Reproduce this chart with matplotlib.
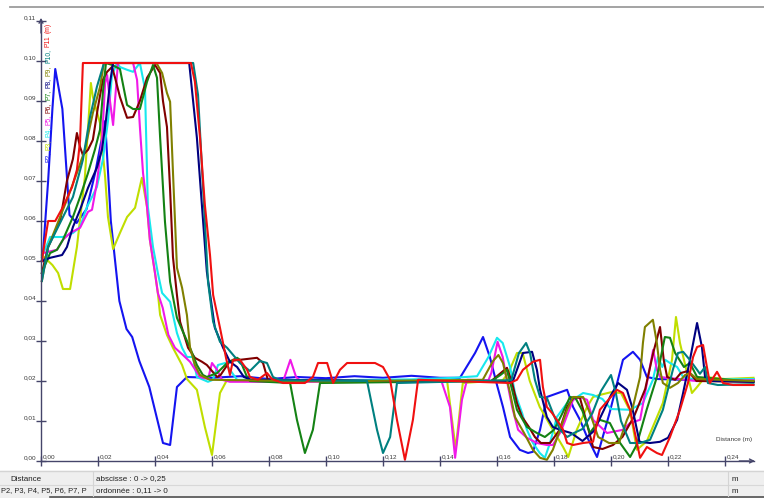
import matplotlib
matplotlib.use("Agg")
import matplotlib.pyplot as plt
from matplotlib.lines import Line2D
from matplotlib.patches import Rectangle
from matplotlib.transforms import offset_copy, IdentityTransform

plt.rcParams['font.family'] = ['Liberation Sans', 'DejaVu Sans']

# profiles, (distance m, height m)
p2 = [(0.0005, 0.050), (0.0025, 0.070), (0.004, 0.088), (0.005, 0.098), (0.0075, 0.088),
      (0.010, 0.0615), (0.0125, 0.0595), (0.016, 0.063), (0.019, 0.072), (0.0225, 0.085),
      (0.0245, 0.060), (0.0275, 0.040), (0.030, 0.033), (0.032, 0.031), (0.0345, 0.025),
      (0.038, 0.0185), (0.0428, 0.0045), (0.0453, 0.004), (0.0477, 0.0185), (0.0512, 0.021),
      (0.06, 0.0208), (0.07, 0.0212), (0.08, 0.0205), (0.09, 0.021), (0.10, 0.0207),
      (0.11, 0.0212), (0.12, 0.0208), (0.13, 0.0213), (0.14, 0.0208), (0.147, 0.0208),
      (0.1523, 0.027), (0.1551, 0.031), (0.1575, 0.026), (0.160, 0.019), (0.1621, 0.0135),
      (0.1646, 0.006), (0.168, 0.0028), (0.1709, 0.002), (0.1726, 0.0023), (0.1751, 0.0078),
      (0.1775, 0.016), (0.1846, 0.0178), (0.1867, 0.0135), (0.1891, 0.0103), (0.1916, 0.006),
      (0.1951, 0.001), (0.1995, 0.012), (0.2042, 0.0253), (0.2077, 0.0273), (0.2102, 0.0253),
      (0.2126, 0.021), (0.2161, 0.0205), (0.23, 0.0202), (0.25, 0.0205)]

p3 = [(0.0003, 0.0515), (0.004, 0.049), (0.006, 0.047), (0.0077, 0.043), (0.0102, 0.043),
      (0.0126, 0.0535), (0.0154, 0.071), (0.0175, 0.0945), (0.0182, 0.091), (0.0207, 0.0845),
      (0.0225, 0.071), (0.0235, 0.061), (0.0253, 0.053), (0.0277, 0.057), (0.0302, 0.061),
      (0.033, 0.0633), (0.0354, 0.0708), (0.0372, 0.0635), (0.0382, 0.0553), (0.040, 0.047),
      (0.041, 0.042), (0.0418, 0.0365), (0.0442, 0.0315), (0.0463, 0.0283), (0.0495, 0.024),
      (0.0512, 0.0205), (0.0547, 0.0178), (0.0575, 0.0085), (0.060, 0.0015), (0.0628, 0.017),
      (0.0653, 0.0203), (0.09, 0.0198), (0.12, 0.0202), (0.1425, 0.0200), (0.1455, 0.003),
      (0.1480, 0.0195), (0.162, 0.0202), (0.164, 0.022), (0.167, 0.027), (0.169, 0.027),
      (0.1715, 0.020), (0.175, 0.0135), (0.1796, 0.0078), (0.1832, 0.0035), (0.185, 0.001),
      (0.188, 0.0078), (0.1916, 0.0135), (0.1937, 0.016), (0.196, 0.0165), (0.2, 0.0172),
      (0.2035, 0.017), (0.2067, 0.0125), (0.2091, 0.0028), (0.2126, 0.005), (0.2182, 0.0145),
      (0.2214, 0.0253), (0.2228, 0.036), (0.2242, 0.0295), (0.2267, 0.022), (0.2284, 0.017),
      (0.2302, 0.0185), (0.233, 0.021), (0.24, 0.0205), (0.25, 0.0208)]

p4 = [(0.0003, 0.051), (0.0032, 0.056), (0.0077, 0.056), (0.0112, 0.057), (0.0137, 0.0585),
      (0.0161, 0.0635), (0.0179, 0.066), (0.0196, 0.0685), (0.0217, 0.0753), (0.0235, 0.085),
      (0.0249, 0.0965), (0.0267, 0.0995), (0.0277, 0.0985), (0.0302, 0.0978), (0.0323, 0.0973),
      (0.0347, 0.0995), (0.0365, 0.093), (0.0375, 0.0635), (0.0393, 0.0535), (0.041, 0.047),
      (0.0425, 0.042), (0.0453, 0.0398), (0.0477, 0.032), (0.0495, 0.0283), (0.0512, 0.026),
      (0.0533, 0.026), (0.0547, 0.021), (0.0586, 0.0198), (0.0603, 0.0203), (0.0621, 0.024),
      (0.0646, 0.0245), (0.0663, 0.0228), (0.0688, 0.0203), (0.10, 0.0202), (0.13, 0.0204),
      (0.145, 0.0208), (0.153, 0.0212), (0.157, 0.026), (0.160, 0.0308), (0.162, 0.0295),
      (0.1646, 0.0235), (0.1663, 0.017), (0.1688, 0.012), (0.1705, 0.0078), (0.1726, 0.0045),
      (0.175, 0.002), (0.1768, 0.0008), (0.1786, 0.0045), (0.181, 0.011), (0.1846, 0.0145),
      (0.1867, 0.0153), (0.1902, 0.017), (0.1937, 0.0165), (0.197, 0.0155), (0.2, 0.013),
      (0.2067, 0.0128), (0.2112, 0.0145), (0.2147, 0.0203), (0.2165, 0.026), (0.218, 0.0235),
      (0.219, 0.0253), (0.2207, 0.0245), (0.2232, 0.0235), (0.2253, 0.021), (0.23, 0.0203),
      (0.25, 0.0205)]

p5 = [(0.0007, 0.052), (0.0056, 0.0528), (0.0077, 0.0553), (0.0102, 0.057), (0.0137, 0.0583),
      (0.0165, 0.0623), (0.0179, 0.0628), (0.0196, 0.0695), (0.0214, 0.080), (0.0225, 0.0945),
      (0.0232, 0.0965), (0.0242, 0.090), (0.0253, 0.084), (0.0270, 0.0995), (0.0323, 0.0995),
      (0.0337, 0.0953), (0.0347, 0.0835), (0.0358, 0.072), (0.0372, 0.0635), (0.0382, 0.0553),
      (0.040, 0.047), (0.041, 0.042), (0.0427, 0.0383), (0.0447, 0.0315), (0.0470, 0.0283),
      (0.0498, 0.0265), (0.0523, 0.0248), (0.0558, 0.021), (0.0586, 0.0205), (0.0600, 0.0245),
      (0.0618, 0.0228), (0.0635, 0.0203), (0.0663, 0.0198), (0.0849, 0.0198), (0.0875, 0.0253),
      (0.0895, 0.021), (0.0915, 0.0198), (0.1405, 0.0200), (0.1435, 0.0135), (0.1453, 0.0008),
      (0.1477, 0.0153), (0.1495, 0.0203), (0.157, 0.0202), (0.158, 0.022), (0.1602, 0.0298),
      (0.162, 0.026), (0.1635, 0.020), (0.1653, 0.0135), (0.1674, 0.0078), (0.1705, 0.0058),
      (0.174, 0.0045), (0.1775, 0.004), (0.1796, 0.004), (0.1825, 0.0075), (0.1867, 0.0153),
      (0.1891, 0.016), (0.1916, 0.0153), (0.1937, 0.0103), (0.1986, 0.007), (0.2042, 0.0078),
      (0.2067, 0.0095), (0.2102, 0.0103), (0.2126, 0.0195), (0.2148, 0.0278), (0.2161, 0.0228),
      (0.2172, 0.021), (0.23, 0.020), (0.25, 0.0202)]

p6 = [(0.0003, 0.047), (0.0025, 0.0535), (0.0067, 0.060), (0.0091, 0.070), (0.0112, 0.0755),
      (0.0126, 0.082), (0.0137, 0.0785), (0.0147, 0.0765), (0.0165, 0.0778), (0.0182, 0.0803),
      (0.0200, 0.0885), (0.0217, 0.0953), (0.0232, 0.0973), (0.0249, 0.0985), (0.0260, 0.0958),
      (0.0277, 0.091), (0.0302, 0.0858), (0.0323, 0.086), (0.0347, 0.090), (0.0372, 0.0958),
      (0.040, 0.099), (0.0418, 0.097), (0.0428, 0.090), (0.0442, 0.0835), (0.0453, 0.0678),
      (0.0463, 0.051), (0.0477, 0.0415), (0.0488, 0.0348), (0.0516, 0.0283), (0.054, 0.0258),
      (0.0565, 0.0248), (0.0582, 0.024), (0.0600, 0.0225), (0.0618, 0.021), (0.063, 0.0215),
      (0.0663, 0.025), (0.0758, 0.0258), (0.0779, 0.0245), (0.0796, 0.0203), (0.12, 0.0200),
      (0.158, 0.0200), (0.1605, 0.0215), (0.1635, 0.0233), (0.1653, 0.0195), (0.1670, 0.0145),
      (0.1688, 0.011), (0.1712, 0.0085), (0.1733, 0.006), (0.1754, 0.0045), (0.1786, 0.0045),
      (0.182, 0.0078), (0.1846, 0.0135), (0.187, 0.016), (0.1891, 0.0158), (0.1912, 0.0103),
      (0.1937, 0.0035), (0.197, 0.003), (0.2007, 0.004), (0.204, 0.006), (0.208, 0.011),
      (0.212, 0.018), (0.2148, 0.027), (0.2172, 0.0335), (0.2185, 0.0253), (0.2197, 0.021),
      (0.2225, 0.0203), (0.2245, 0.022), (0.227, 0.0225), (0.23, 0.020), (0.25, 0.0198)]

p7 = [(0.0003, 0.047), (0.0032, 0.052), (0.0056, 0.0528), (0.0077, 0.0553), (0.0112, 0.061),
      (0.0137, 0.066), (0.0165, 0.072), (0.0189, 0.0778), (0.0207, 0.0828), (0.0218, 0.0928),
      (0.0228, 0.0995), (0.0250, 0.0990), (0.0277, 0.098), (0.0302, 0.089), (0.0323, 0.088),
      (0.0347, 0.088), (0.0372, 0.0948), (0.0393, 0.099), (0.0407, 0.0958), (0.0418, 0.0808),
      (0.0435, 0.0598), (0.0453, 0.0448), (0.0477, 0.0358), (0.0498, 0.0323), (0.0523, 0.0283),
      (0.0547, 0.024), (0.0568, 0.0215), (0.0582, 0.021), (0.0618, 0.022), (0.0653, 0.0245),
      (0.0688, 0.0258), (0.0698, 0.0253), (0.0723, 0.021), (0.0733, 0.020), (0.0874, 0.0195),
      (0.0898, 0.0103), (0.0926, 0.002), (0.0954, 0.0078), (0.0979, 0.0195), (0.158, 0.020),
      (0.1612, 0.0215), (0.1635, 0.0228), (0.1653, 0.0178), (0.1670, 0.0128), (0.1705, 0.0085),
      (0.174, 0.007), (0.1768, 0.006), (0.180, 0.0078), (0.183, 0.012), (0.1856, 0.016),
      (0.1875, 0.0158), (0.19, 0.0125), (0.1926, 0.007), (0.196, 0.0103), (0.1996, 0.0095),
      (0.2032, 0.0045), (0.2067, 0.001), (0.209, 0.004), (0.2125, 0.0128), (0.2161, 0.021),
      (0.2189, 0.031), (0.2207, 0.0308), (0.2225, 0.027), (0.2256, 0.0235), (0.2277, 0.0245),
      (0.2302, 0.021), (0.25, 0.0198)]

p8 = [(0.0003, 0.050), (0.0032, 0.0508), (0.0074, 0.0515), (0.0091, 0.0535), (0.0112, 0.0585),
      (0.0137, 0.0628), (0.0165, 0.0683), (0.0196, 0.0733), (0.0214, 0.0778), (0.0228, 0.0853),
      (0.0242, 0.0945), (0.0253, 0.0995), (0.052, 0.0995), (0.0547, 0.0808), (0.0582, 0.0473),
      (0.0610, 0.0333), (0.0639, 0.0283), (0.0663, 0.0248), (0.0688, 0.0235), (0.0712, 0.021),
      (0.0737, 0.0203), (0.12, 0.0200), (0.1656, 0.0200), (0.1691, 0.027), (0.1723, 0.0273),
      (0.174, 0.0228), (0.1751, 0.0178), (0.1775, 0.011), (0.1796, 0.0085), (0.1821, 0.0078),
      (0.186, 0.007), (0.19, 0.005), (0.194, 0.0075), (0.197, 0.012), (0.2, 0.0165),
      (0.2025, 0.0195), (0.2056, 0.0178), (0.2074, 0.0135), (0.2091, 0.0078), (0.21, 0.0048),
      (0.2137, 0.0045), (0.2172, 0.0048), (0.22, 0.0058), (0.2232, 0.0103), (0.2253, 0.017),
      (0.2277, 0.0253), (0.2302, 0.0345), (0.2319, 0.0285), (0.233, 0.021), (0.2358, 0.020),
      (0.25, 0.0198)]

p9 = [(0.0003, 0.045), (0.0025, 0.0535), (0.0091, 0.0653), (0.0126, 0.072), (0.0154, 0.0778),
      (0.0182, 0.087), (0.0207, 0.0935), (0.0221, 0.0995), (0.0405, 0.0995), (0.0425, 0.097),
      (0.0442, 0.092), (0.0453, 0.0898), (0.0463, 0.0723), (0.0477, 0.0483), (0.0495, 0.0433),
      (0.0512, 0.0365), (0.0523, 0.0283), (0.054, 0.024), (0.0558, 0.0215), (0.0593, 0.0203),
      (0.10, 0.0199), (0.155, 0.0203), (0.1586, 0.025), (0.1605, 0.0265), (0.1621, 0.0245),
      (0.1646, 0.017), (0.1663, 0.011), (0.1695, 0.007), (0.1726, 0.0028), (0.1751, 0.0008),
      (0.1775, 0.0003), (0.1796, 0.0028), (0.1821, 0.0078), (0.1846, 0.0128), (0.1867, 0.016),
      (0.1902, 0.016), (0.1926, 0.012), (0.1955, 0.006), (0.1993, 0.0045), (0.2028, 0.0045),
      (0.2056, 0.0103), (0.2077, 0.0135), (0.2102, 0.021), (0.2112, 0.0295), (0.2119, 0.0335),
      (0.2147, 0.0353), (0.2161, 0.0295), (0.2172, 0.0228), (0.2182, 0.0195), (0.2207, 0.0183),
      (0.2235, 0.0195), (0.226, 0.0215), (0.2277, 0.022), (0.2302, 0.0205), (0.25, 0.020)]

p10 = [(0.0003, 0.045), (0.0025, 0.0535), (0.0112, 0.066), (0.0147, 0.0753), (0.0172, 0.086),
       (0.0196, 0.0935), (0.0221, 0.0995), (0.0534, 0.0995), (0.0551, 0.0915), (0.0575, 0.0598),
       (0.0586, 0.0448), (0.0604, 0.0348), (0.0628, 0.0298), (0.0653, 0.0283), (0.0698, 0.0245),
       (0.0733, 0.0225), (0.0768, 0.025), (0.0793, 0.0245), (0.0814, 0.021), (0.0839, 0.0202),
       (0.1144, 0.020), (0.1179, 0.0078), (0.1200, 0.002), (0.1225, 0.006), (0.1249, 0.0195),
       (0.165, 0.0202), (0.1677, 0.027), (0.1702, 0.0295), (0.1716, 0.027), (0.1733, 0.0203),
       (0.1751, 0.016), (0.1775, 0.0158), (0.1796, 0.012), (0.1821, 0.0078), (0.1846, 0.006),
       (0.187, 0.007), (0.19, 0.008), (0.1935, 0.012), (0.1965, 0.0175), (0.2, 0.0215),
       (0.2017, 0.017), (0.2035, 0.01), (0.2067, 0.0045), (0.2102, 0.0045), (0.2137, 0.0053),
       (0.2182, 0.0128), (0.2217, 0.0228), (0.2235, 0.027), (0.2253, 0.0273), (0.2274, 0.0255),
       (0.2302, 0.0228), (0.2312, 0.0218), (0.2330, 0.0235), (0.2340, 0.0195), (0.2375, 0.019),
       (0.25, 0.0192)]

p11 = [(0.0003, 0.050), (0.0025, 0.060), (0.005, 0.060), (0.0077, 0.0635), (0.0109, 0.0685),
       (0.0126, 0.0728), (0.0137, 0.080), (0.0147, 0.0995), (0.0526, 0.0995), (0.054, 0.0948),
       (0.0558, 0.0808), (0.0575, 0.064), (0.0593, 0.0515), (0.0604, 0.0415), (0.0628, 0.0333),
       (0.0650, 0.0255), (0.0663, 0.0215), (0.0674, 0.0253), (0.0698, 0.0253), (0.0723, 0.0228),
       (0.0733, 0.021), (0.0761, 0.0203), (0.0793, 0.022), (0.0810, 0.0205), (0.0849, 0.0195),
       (0.0926, 0.0195), (0.0954, 0.021), (0.0972, 0.0245), (0.1004, 0.0245), (0.1025, 0.0195),
       (0.1049, 0.0228), (0.1074, 0.0245), (0.1172, 0.0245), (0.12, 0.0235), (0.1225, 0.0203),
       (0.1249, 0.0103), (0.1277, 0.0003), (0.1305, 0.0103), (0.1323, 0.0203), (0.1646, 0.0195),
       (0.167, 0.0203), (0.1691, 0.0228), (0.1726, 0.0248), (0.1751, 0.0253), (0.1761, 0.0185),
       (0.1775, 0.0135), (0.1793, 0.012), (0.181, 0.0103), (0.1832, 0.0078), (0.1846, 0.0045),
       (0.1867, 0.004), (0.1902, 0.0045), (0.1937, 0.0048), (0.1961, 0.0128), (0.2021, 0.0178),
       (0.2042, 0.017), (0.2067, 0.0128), (0.2102, 0.0008), (0.2126, 0.0035), (0.2161, 0.002),
       (0.2179, 0.0015), (0.2207, 0.006), (0.2242, 0.0128), (0.227, 0.0195), (0.2288, 0.026),
       (0.2302, 0.0285), (0.2323, 0.029), (0.2337, 0.0233), (0.2347, 0.0195), (0.2372, 0.0223),
       (0.2382, 0.021), (0.2393, 0.0195), (0.2428, 0.019), (0.25, 0.019)]

names = ['P2', 'P3', 'P4', 'P5', 'P6', 'P7', 'P8', 'P9', 'P10', 'P11']
series = [p2, p3, p4, p5, p6, p7, p8, p9, p10, p11]
colors = ['#1414f0', '#c0de00', '#18e8ee', '#f018e8', '#800000',
          '#148214', '#000080', '#808000', '#008080', '#f01010']

x_ticks = [0.00, 0.02, 0.04, 0.06, 0.08, 0.10, 0.12, 0.14, 0.16, 0.18, 0.20, 0.22, 0.24]
y_ticks = [0.00, 0.01, 0.02, 0.03, 0.04, 0.05, 0.06, 0.07, 0.08, 0.09, 0.10, 0.11]

W, H = 764, 498
axc = '#45456a'
txc = '#3a3a3a'


def fx(px):
    return px / W


def fy(py):
    return 1 - py / H


fig = plt.figure(figsize=(W / 100, H / 100), dpi=100)
ax = fig.add_axes([fx(41), fy(461), 712.5 / W, 440 / H])
ax.set_xlim(0, 0.25)
ax.set_ylim(0, 0.11)

for pts, c in zip(series, colors):
    xs, ys = zip(*pts)
    ax.plot(xs, ys, color=c, lw=1.5, clip_on=False)

for s in ['top', 'right']:
    ax.spines[s].set_visible(False)
for s in ['left', 'bottom']:
    ax.spines[s].set_color(axc)
    ax.spines[s].set_linewidth(1.0)
ax.set_xticks(x_ticks)
ax.set_yticks(y_ticks)
ax.tick_params(direction='inout', length=7, width=1, color=axc,
               labelbottom=False, labelleft=False)

xtr = offset_copy(ax.transData, fig=fig, x=2, y=2, units='dots')
for v in x_ticks:
    ax.text(v, 0, f'{v:.2f}'.replace('.', ','), transform=xtr, fontsize=4.6,
            color=txc, ha='left', va='bottom', clip_on=False)
ytr = offset_copy(ax.transData, fig=fig, x=-5, y=1, units='dots')
for v in y_ticks:
    ax.text(0, v, f'{v:.2f}'.replace('.', ','), transform=ytr, fontsize=4.6,
            color=txc, ha='right', va='bottom', clip_on=False)

ax.text(0.2495, 0.0053, 'Distance (m)', fontsize=4.6, color=txc, ha='right', va='center')

# axis arrows
ax.annotate('', xy=(0.2505, 0), xytext=(0.245, 0), annotation_clip=False,
            arrowprops=dict(arrowstyle='->', color=axc, lw=1, shrinkA=0, shrinkB=0,
                            mutation_scale=7))
ax.annotate('', xy=(0, 0.1108), xytext=(0, 0.107), annotation_clip=False,
            arrowprops=dict(arrowstyle='->', color=axc, lw=1, shrinkA=0, shrinkB=0,
                            mutation_scale=7))

# coloured vertical axis title, one piece per profile
fig.canvas.draw()
renderer = fig.canvas.get_renderer()
pieces = [n + ',' for n in names[:-1]] + [names[-1], '(m)']
piece_colors = colors + [colors[-1]]
ypos = H - 162
for txt, c in zip(pieces, piece_colors):
    t = fig.text(48, ypos, txt, transform=IdentityTransform(), rotation=90,
                 rotation_mode='anchor', ha='left', va='center', fontsize=4.9, color=c)
    bb = t.get_window_extent(renderer)
    ypos = bb.y1 + 2.2

# window frame and status bar
fig.add_artist(Line2D([fx(10), 1], [fy(7), fy(7)], color='#9c9c9c', lw=1.3))
fig.add_artist(Rectangle((0, 0), 1, fy(471), color='#efefef', zorder=0))
fig.add_artist(Line2D([0, 1], [fy(471), fy(471)], color='#d4d4d4', lw=1))
fig.add_artist(Line2D([0, 1], [fy(485), fy(485)], color='#d8d8d8', lw=0.8))
fig.add_artist(Line2D([fx(50), 1], [fy(497), fy(497)], color='#505050', lw=1.2))
for sx in [93, 728]:
    fig.add_artist(Line2D([fx(sx), fx(sx)], [fy(472), fy(496)], color='#d4d4d4', lw=0.8))

status = [(10, 479, 'Distance', 5.8), (96, 479, 'abscisse : 0 -> 0,25', 5.8),
          (732, 479, 'm', 5.8), (1, 491, 'P2, P3, P4, P5, P6, P7, P', 5.4),
          (96, 491, 'ordonnée : 0,11 -> 0', 5.8), (732, 491, 'm', 5.8)]
for sx, sy, s, fs in status:
    fig.text(fx(sx), fy(sy), s, fontsize=fs, color='#202020', ha='left', va='center')

fig.savefig('out.png', dpi=100)
